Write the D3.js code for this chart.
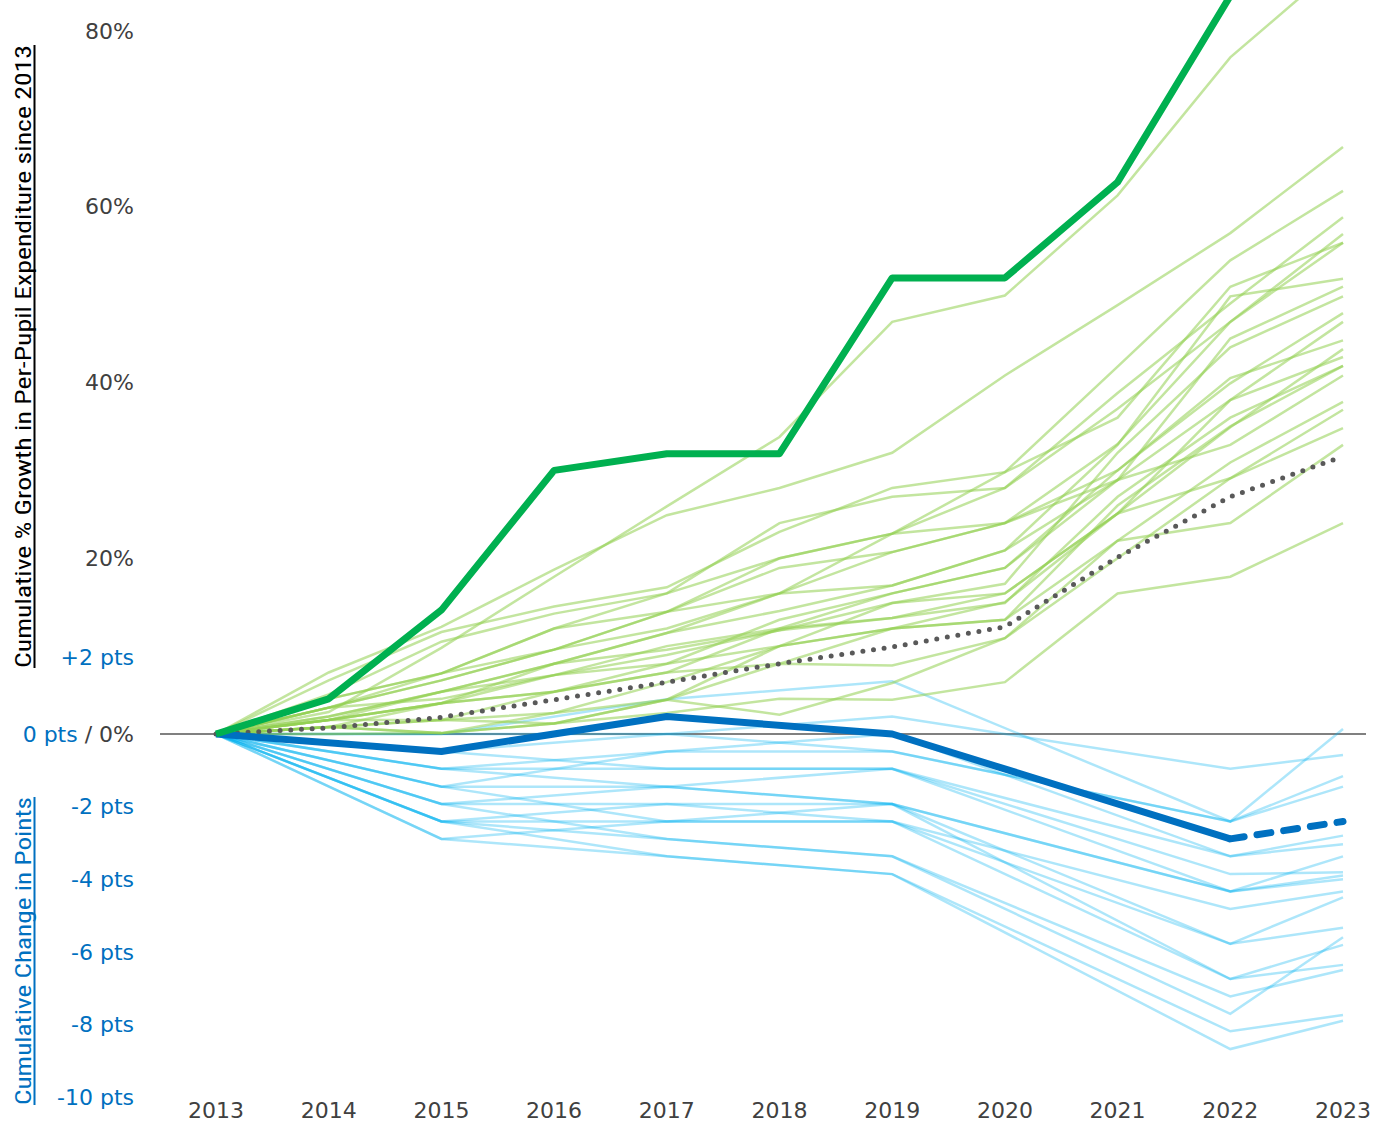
<!DOCTYPE html>
<html>
<head>
<meta charset="utf-8">
<script src="https://cdn.jsdelivr.net/npm/d3@7"></script>
<style>
  body { margin: 0; background: #fff; }
  svg { display: block; }
</style>
</head>
<body>
<svg></svg>
<script>
// x categories
const years = [2013, 2014, 2015, 2016, 2017, 2018, 2019, 2020, 2021, 2022, 2023];
// assessment years used by the points series
const testYears = [2013, 2015, 2017, 2019, 2022, 2023];

// cumulative % growth, one row per state (light green)
const growthStates = [
    [0, 2.5, 9.8, 17.9, 25.9, 33.8, 46.9, 49.9, 61.3, 77, 88],
    [0, 7, 12.2, 18.7, 24.9, 28, 32, 40.8, 48.8, 57, 66.8],
    [0, 6.1, 11.6, 14.5, 16.7, 23, 28, 29.8, 41.8, 53.9, 61.8],
    [0, 3, 6.9, 12, 16, 20, 22.8, 28, 38.8, 49, 58.8],
    [0, 4.5, 10.5, 13.7, 16, 24, 27, 28, 37, 46.9, 56.9],
    [0, 3, 6.1, 9.6, 13.9, 18.9, 20.7, 24, 33, 46.9, 55.9],
    [0, 4, 6.9, 12, 13.9, 20, 22.8, 29.8, 36, 50.9, 55.9],
    [0, 1.6, 4.8, 8, 11.5, 16, 16.9, 20.9, 32.9, 49.8, 51.8],
    [0, 2, 4.8, 6.7, 10, 12, 16, 18.9, 28.9, 45, 50.9],
    [0, 3, 4, 6.7, 9, 11.8, 14.9, 17.1, 32, 44, 49.8],
    [0, 1.6, 3.5, 4.8, 8, 13, 16, 18.9, 30, 39.9, 47.9],
    [0, 0.8, 3.5, 8, 11.5, 14, 16.9, 20.9, 28.9, 38, 46.9],
    [0, 3, 6.1, 9.6, 12, 16, 20.7, 24, 30, 40.5, 44.8],
    [0, 0.8, 1.6, 4.8, 7, 12, 13.2, 16, 25.1, 34.9, 43.8],
    [0, 1.6, 3.5, 6.7, 8, 10, 14.9, 16, 25.1, 38, 42.9],
    [0, 2, 4.8, 8, 9.6, 11.8, 13.2, 14.9, 27, 36, 41.9],
    [0, 0.8, 1.6, 1.2, 3.9, 10, 12, 13, 26, 35, 41.9],
    [0, 4, 6.9, 9.6, 13.9, 16, 22.8, 24, 28.9, 32.9, 40.8],
    [0, 1.6, 3.5, 4.8, 7, 8, 12, 13, 22, 30.9, 37.8],
    [0, 0.8, 0.1, 2.4, 5.9, 10, 12, 15, 25.1, 29.1, 36.9],
    [0, 0, 0.1, 1.2, 3.9, 2.2, 5.8, 10.9, 20, 29.1, 34.8],
    [0, 1.6, 1.6, 2.4, 3.9, 8, 7.8, 10.9, 22, 24, 32.9],
    [0, 0.8, 0.1, 1.2, 2.4, 4, 3.9, 5.9, 16, 17.9, 24]
];
const growthHighlight = [0, 4, 14.1, 30, 31.9, 31.9, 51.9, 51.9, 62.8, 84, 95];
const growthAverage = [0, 0.7, 1.9, 3.9, 5.9, 8, 9.9, 12.2, 20.1, 27, 31.6];

// cumulative change in points, one row per state (light blue), on testYears
const pointStates = [
    [0, -0.48, 0, 0.48, -0.96, -0.58],
    [0, 0, 0.96, 1.45, -2.41, 0.14],
    [0, 0, 0, -0.48, -2.41, -1.16],
    [0, -0.96, -0.48, -0.48, -2.41, -1.45],
    [0, -1.45, -0.48, 0, -3.37, -2.8],
    [0, -0.48, -0.96, -0.96, -3.37, -3.04],
    [0, -0.96, -0.96, -0.96, -3.86, -3.81],
    [0, -0.96, -1.45, -0.96, -4.34, -3.37],
    [0, -1.45, -1.45, -1.93, -4.34, -3.9],
    [0, -1.93, -1.45, -1.93, -4.34, -4.0],
    [0, -1.93, -1.93, -2.41, -4.82, -4.34],
    [0, -2.41, -1.93, -1.93, -5.78, -4.5],
    [0, -1.45, -2.41, -2.41, -5.78, -5.34],
    [0, -2.41, -2.41, -1.93, -6.75, -5.81],
    [0, -2.89, -2.41, -2.41, -6.75, -6.36],
    [0, -1.93, -2.89, -3.37, -7.23, -6.5],
    [0, -2.41, -2.89, -3.37, -7.71, -5.6],
    [0, -2.89, -3.37, -3.86, -8.19, -7.74],
    [0, -2.41, -3.37, -3.86, -8.68, -7.9]
];
const pointHighlight = [0, -0.48, 0.48, 0, -2.89, -2.41];

// tick labels
const pctTicks = [20, 40, 60, 80];
const ptsTicks = [2, -2, -4, -6, -8, -10];

const svgWidth = 1375;
const svgHeight = 1124;
const svg = d3.select("svg")
    .attr("width", svgWidth)
    .attr("height", svgHeight);

const x = d3.scaleLinear().domain([2013, 2023]).range([216, 1343]);
const yPct = d3.scaleLinear().domain([0, 80]).range([734, 31]);
const yPts = d3.scaleLinear().domain([-10, 0]).range([1097, 734]);

const labelFont = "'DejaVu Sans', Verdana, sans-serif";
const titleFont = "'Liberation Sans Narrow', 'Roboto Condensed', 'Open Sans', sans-serif";
const grey = "#404040";
const blue = "#0070c0";

const pctLine = xs => d3.line()
    .x((d, i) => x(xs[i]))
    .y(d => yPct(d));
const ptsLine = xs => d3.line()
    .x((d, i) => x(xs[i]))
    .y(d => yPts(d));

// zero line
svg.append("line")
    .attr("x1", 160).attr("x2", 1366)
    .attr("y1", yPct(0)).attr("y2", yPct(0))
    .attr("stroke", "#808080")
    .attr("stroke-width", 2);

// light blue state lines
svg.append("g")
    .selectAll("path")
    .data(pointStates)
    .enter().append("path")
    .attr("d", ptsLine(testYears))
    .attr("fill", "none")
    .attr("stroke", "#00b0f0")
    .attr("stroke-opacity", 0.32)
    .attr("stroke-width", 2.5);

// light green state lines
svg.append("g")
    .selectAll("path")
    .data(growthStates)
    .enter().append("path")
    .attr("d", pctLine(years))
    .attr("fill", "none")
    .attr("stroke", "#92d050")
    .attr("stroke-opacity", 0.55)
    .attr("stroke-width", 2.5);

// average (dotted)
svg.append("path")
    .datum(growthAverage)
    .attr("d", pctLine(years))
    .attr("fill", "none")
    .attr("stroke", "#595959")
    .attr("stroke-width", 5)
    .attr("stroke-linecap", "round")
    .attr("stroke-dasharray", "0 10.7");

// highlighted points line, dashed for the last step
const nSolid = pointHighlight.length - 1;
svg.append("path")
    .datum(pointHighlight.slice(0, nSolid))
    .attr("d", ptsLine(testYears.slice(0, nSolid)))
    .attr("fill", "none")
    .attr("stroke", blue)
    .attr("stroke-width", 7)
    .attr("stroke-linejoin", "round");
svg.append("path")
    .datum(pointHighlight.slice(nSolid - 1))
    .attr("d", ptsLine(testYears.slice(nSolid - 1)))
    .attr("fill", "none")
    .attr("stroke", blue)
    .attr("stroke-width", 7)
    .attr("stroke-linecap", "round")
    .attr("stroke-dasharray", "14 13");

// highlighted growth line
svg.append("path")
    .datum(growthHighlight)
    .attr("d", pctLine(years))
    .attr("fill", "none")
    .attr("stroke", "#00b050")
    .attr("stroke-width", 7)
    .attr("stroke-linejoin", "round");

// x labels
svg.append("g")
    .attr("font-family", labelFont)
    .attr("font-size", 22)
    .attr("fill", grey)
    .attr("text-anchor", "middle")
    .selectAll("text")
    .data(years)
    .enter().append("text")
    .attr("x", d => x(d))
    .attr("y", 1118)
    .text(d => d);

// y tick labels
const ticks = svg.append("g")
    .attr("font-family", labelFont)
    .attr("font-size", 22)
    .attr("text-anchor", "end");

ticks.selectAll(".pct")
    .data(pctTicks)
    .enter().append("text")
    .attr("class", "pct")
    .attr("x", 134)
    .attr("y", d => yPct(d))
    .attr("dy", "0.35em")
    .attr("fill", grey)
    .text(d => d + "%");

ticks.selectAll(".pts")
    .data(ptsTicks)
    .enter().append("text")
    .attr("class", "pts")
    .attr("x", 134)
    .attr("y", d => d > 0 ? yPts(d) - 4 : yPts(d))
    .attr("dy", "0.35em")
    .attr("fill", blue)
    .text(d => (d > 0 ? "+" : "") + d + " pts");

const zeroLabel = ticks.append("text")
    .attr("x", 134)
    .attr("y", yPct(0))
    .attr("dy", "0.35em");
zeroLabel.append("tspan").attr("fill", blue).text("0 pts");
zeroLabel.append("tspan").attr("fill", grey).text(" / 0%");

// axis titles (rotated, underlined)
const titles = [
    {text: "Cumulative % Growth in Per-Pupil Expenditure since 2013", y0: 45, y1: 668, color: "#000"},
    {text: "Cumulative Change in Points", y0: 797, y1: 1105, color: blue}
];
const title = svg.append("g")
    .selectAll("g")
    .data(titles)
    .enter().append("g");

title.append("text")
    .attr("transform", d => "translate(31," + (d.y0 + d.y1) / 2 + ") rotate(-90)")
    .attr("text-anchor", "middle")
    .attr("font-family", titleFont)
    .attr("font-size", 22)
    .attr("textLength", d => d.y1 - d.y0)
    .attr("lengthAdjust", "spacingAndGlyphs")
    .attr("fill", d => d.color)
    .text(d => d.text);

title.append("line")
    .attr("x1", 34.5).attr("x2", 34.5)
    .attr("y1", d => d.y0).attr("y2", d => d.y1)
    .attr("stroke", d => d.color)
    .attr("stroke-width", 2);
</script>
</body>
</html>
